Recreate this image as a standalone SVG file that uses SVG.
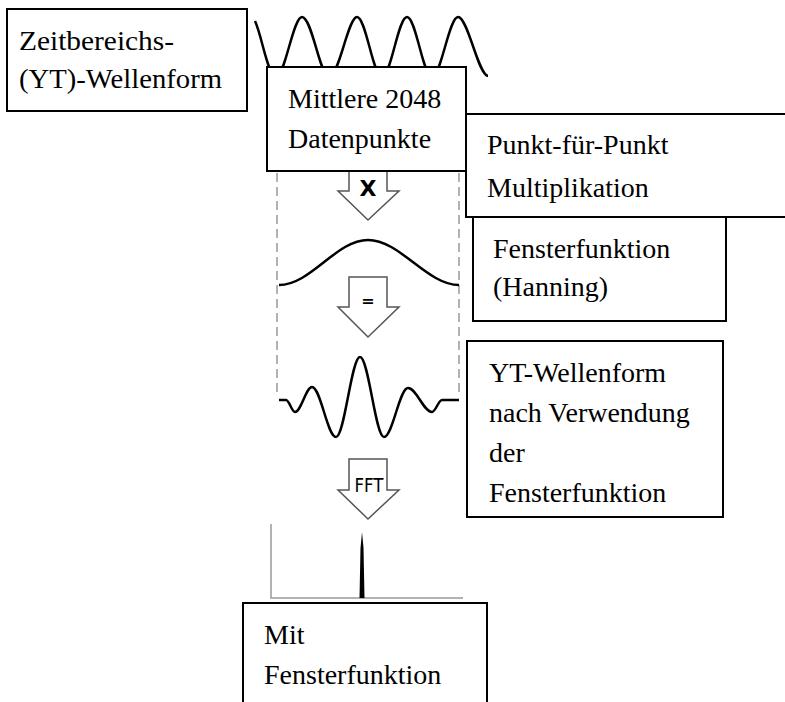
<svg xmlns="http://www.w3.org/2000/svg" width="785" height="702" viewBox="0 0 785 702">
<style>
.box{fill:#fff;stroke:#000;stroke-width:2}
.wave{fill:none;stroke:#000;stroke-width:2.5;stroke-linejoin:round}
.arrow{fill:#fff;stroke:#555;stroke-width:1.5}
.dash{stroke:#999;stroke-width:1.5;stroke-dasharray:9,5;fill:none}
</style>
<rect width="785" height="702" fill="#fff"/>
<g id="graphics">
<path class="wave" d="M255,21 C262,36 268,77 276,77 C285,77 293,17 302,17 C312,17 320,77 329,77 C339,77 348,17 357,17 C366,17 373,77 382,77 C391,77 398,17 407,17 C416,17 423,77 432,77 C441,77 449,17 458,17 C468,17 478,75 488,76"/>
<line class="dash" x1="277" y1="173" x2="277" y2="393"/>
<line class="dash" x1="459" y1="173" x2="459" y2="393"/>
<path class="wave" d="M279,285 C311,285 336,240 368,240 C400,240 427,285 459,285"/>
<path class="wave" d="M279,400 L286,400 C289.2,400 291.8,412 295,412 C301.1,412 305.9,387 312,387 C320.6,387 327.4,437 336,437 C344.6,437 351.4,357 360,357 C368.6,357 375.4,437 384,437 C392.6,437 399.4,388 408,388 C416.6,388 423.4,412 432,412 C435.6,412 438.4,400 442,400 L459,400"/>
<path d="M271,524 V598 H463" fill="none" stroke="#999" stroke-width="1.5"/>
<polygon points="359.5,598 360.5,548 362,532 363.5,548 364.5,598" fill="#000"/>
</g>
<g id="connectors" font-family="DejaVu Sans, sans-serif" text-anchor="middle" fill="#000">
<path class="arrow" d="M349,171 V191 H338 L368,220 L399,191 H387 V171"/>
<text x="368" y="196" font-size="22" font-weight="bold">X</text>
<path class="arrow" d="M349,277 V307 H338 L368,337 L399,307 H387 V277 Z"/>
<text x="368" y="306" font-size="16" font-weight="bold">=</text>
<path class="arrow" d="M349,459 V490 H338 L368,519 L399,490 H387 V459 Z"/>
<text x="369" y="492" font-size="19" textLength="29" lengthAdjust="spacingAndGlyphs">FFT</text>
</g>
<g font-family="Liberation Serif, Times New Roman, serif" font-size="28" fill="#000">
<g id="node-zeit">
<rect class="box" x="7" y="9" width="240" height="102"/>
<text x="19" y="50" textLength="155" lengthAdjust="spacingAndGlyphs">Zeitbereichs-</text>
<text x="19" y="88" textLength="203" lengthAdjust="spacingAndGlyphs">(YT)-Wellenform</text>
</g>
<g id="node-mittlere">
<rect class="box" x="267" y="67" width="199" height="104"/>
<text x="288" y="108">Mittlere 2048</text>
<text x="288" y="148">Datenpunkte</text>
</g>
<g id="node-punkt">
<rect class="box" x="466" y="114" width="330" height="103"/>
<text x="487" y="154">Punkt-für-Punkt</text>
<text x="487" y="197">Multiplikation</text>
</g>
<g id="node-fenster">
<rect class="box" x="473" y="217" width="253" height="104"/>
<text x="493" y="258">Fensterfunktion</text>
<text x="493" y="296">(Hanning)</text>
</g>
<g id="node-yt">
<rect class="box" x="467" y="341" width="256" height="176"/>
<text x="489" y="382">YT-Wellenform</text>
<text x="489" y="422">nach Verwendung</text>
<text x="489" y="462">der</text>
<text x="489" y="502">Fensterfunktion</text>
</g>
<g id="node-mit">
<rect class="box" x="243" y="603" width="244" height="110"/>
<text x="264" y="644">Mit</text>
<text x="264" y="684">Fensterfunktion</text>
</g>
</g>
</svg>
